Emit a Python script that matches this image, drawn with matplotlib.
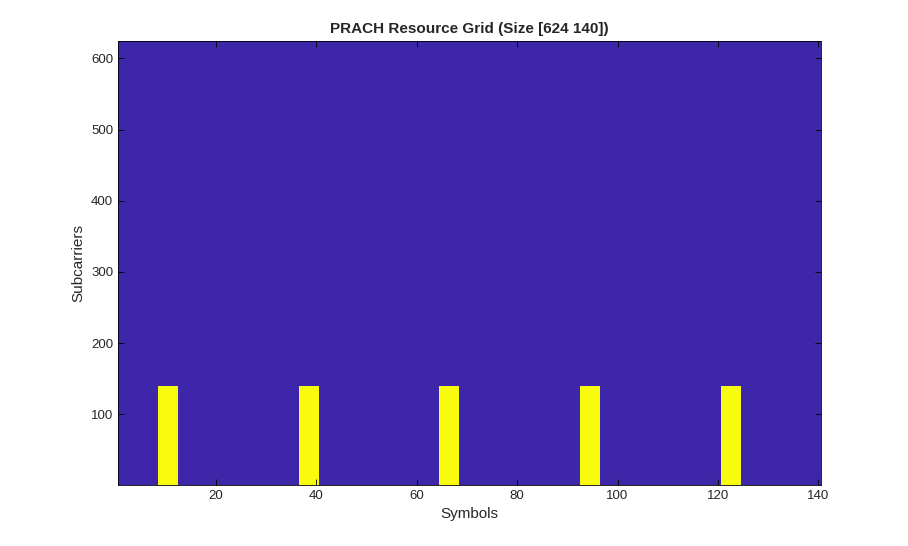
import numpy as np
import matplotlib
matplotlib.use('Agg')
import matplotlib.pyplot as plt
from matplotlib.colors import ListedColormap

n_subcarriers = 624
n_symbols = 140
prach_symbols = [9, 10, 11, 12, 37, 38, 39, 40, 65, 66, 67, 68,
                 93, 94, 95, 96, 121, 122, 123, 124]
prach_subcarriers = 139

grid = np.zeros((n_subcarriers, n_symbols))
for s in prach_symbols:
    grid[:prach_subcarriers, s - 1] = 1

plt.rcParams['font.family'] = ['Liberation Sans', 'DejaVu Sans']
fig = plt.figure(figsize=(9.08, 5.46), dpi=100)
ax = fig.add_axes([0.13, 0.1117, 0.774, 0.8133])
cmap = ListedColormap(['#3E26A8', '#F9FB0E'])
ax.imshow(grid, cmap=cmap, origin='lower', aspect='auto', interpolation='nearest',
          extent=[0.5, n_symbols + 0.5, 0.5, n_subcarriers + 0.5])

ax.set_xticks(range(20, 141, 20))
ax.set_yticks(range(100, 601, 100))
ax.tick_params(direction='in', top=True, right=True, labelsize=9.5, length=4, width=0.6,
               labelcolor='#262626')
for sp in ax.spines.values():
    sp.set_linewidth(0.6)
ax.set_xlabel('Symbols', fontsize=11, color='#262626')
ax.set_ylabel('Subcarriers', fontsize=11, color='#262626')
ax.set_title('PRACH Resource Grid (Size [624 140])', fontsize=11, fontweight='bold',
             color='#262626')

fig.savefig('out.png')
